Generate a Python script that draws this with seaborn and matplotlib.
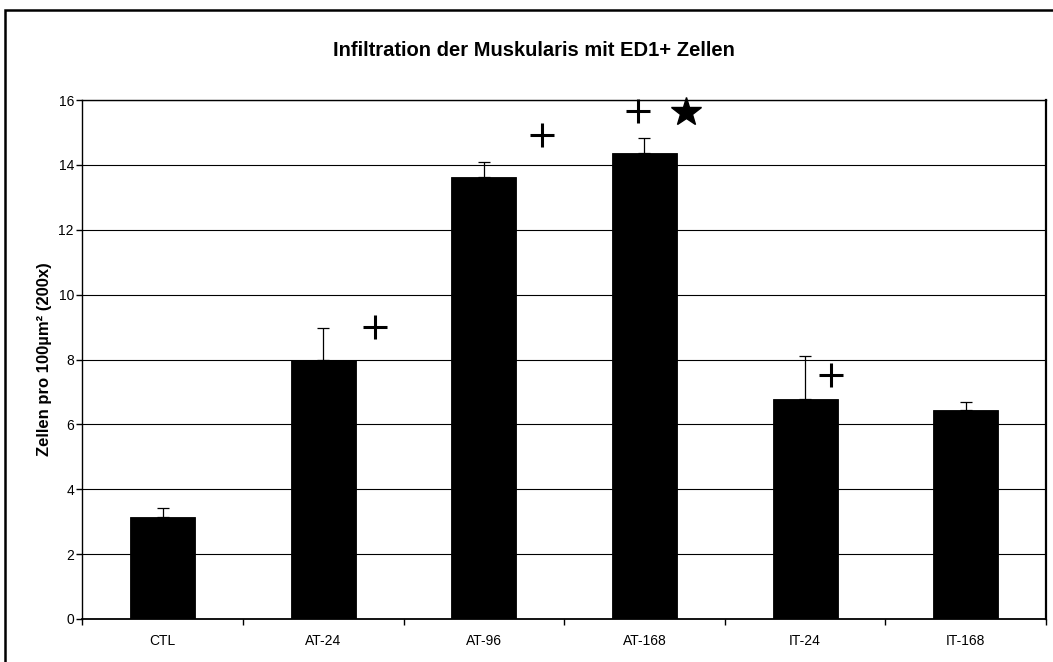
import matplotlib
matplotlib.use("Agg")
import matplotlib.pyplot as plt
import seaborn as sns
import pandas as pd
import numpy as np
from matplotlib.patches import Rectangle
from matplotlib.ticker import FixedLocator

# ---- data ----
categories = ["CTL", "AT-24", "AT-96", "AT-168", "IT-24", "IT-168"]
means = [3.15, 8.00, 13.63, 14.36, 6.77, 6.44]
errors = [0.26, 0.98, 0.45, 0.48, 1.33, 0.26]
plus_values = [np.nan, 8.99, 14.91, 15.65, 7.51, np.nan]
star_values = [np.nan, np.nan, np.nan, 15.64, np.nan, np.nan]
y_ticks = [0, 2, 4, 6, 8, 10, 12, 14, 16]

title = "Infiltration der Muskularis mit ED1+ Zellen"
ylabel = "Zellen pro 100µm² (200x)"

# layout (horizontal offsets of significance marks from category centre)
plus_offsets = [0.0, 0.32, 0.36, -0.04, 0.16, 0.0]
star_offsets = [0.0, 0.0, 0.0, 0.26, 0.0, 0.0]

sns.set_style("white")
plt.rcParams["font.family"] = ["Liberation Sans", "DejaVu Sans"]
plt.rcParams["text.color"] = "black"
plt.rcParams["axes.labelcolor"] = "black"
plt.rcParams["xtick.color"] = "black"
plt.rcParams["ytick.color"] = "black"

fig = plt.figure(figsize=(10.53, 6.62), dpi=100)
W, H = 1053, 662
ax = fig.add_axes([82.3 / W, 1 - 619 / H, (1046 - 82.3) / W, (619 - 100) / H])

df = pd.DataFrame({"Gruppe": categories, "Wert": means})
sns.barplot(data=df, x="Gruppe", y="Wert", color="black", saturation=1,
            width=0.405, errorbar=None, edgecolor="black", linewidth=0.6, ax=ax)

xpos = np.arange(len(categories))
ax.errorbar(xpos, means, yerr=[np.zeros(len(means)), errors], fmt="none",
            ecolor="black", elinewidth=0.9, capsize=4, capthick=0.9, zorder=3)

ax.plot(xpos + np.array(plus_offsets), plus_values, linestyle="none",
        marker="+", markersize=17, markeredgewidth=2.2, color="black",
        clip_on=False, zorder=4)
ax.plot(xpos + np.array(star_offsets), star_values, linestyle="none",
        marker="*", markersize=22, color="black", clip_on=False, zorder=4)

ax.set_xlim(-0.5, len(categories) - 0.5)
ax.set_ylim(0, 16)
ax.set_yticks(y_ticks)
ax.yaxis.grid(True, color="black", linewidth=0.8)
ax.set_axisbelow(True)

ax.set_xlabel("")
ax.set_ylabel(ylabel, fontsize=12, fontweight="bold", labelpad=5, color="black")

ax.xaxis.set_minor_locator(FixedLocator(np.arange(-0.5, len(categories), 1.0)))
ax.tick_params(axis="x", which="major", length=0, pad=11, labelsize=10,
               colors="black")
ax.tick_params(axis="x", which="minor", length=4, width=1, color="black",
               direction="out", bottom=True)
ax.tick_params(axis="y", which="major", length=4, width=1, color="black",
               labelcolor="black", direction="out", left=True, pad=2,
               labelsize=10)

for s in ax.spines.values():
    s.set_visible(True)
    s.set_color("black")
    s.set_linewidth(1.0)
ax.spines["right"].set_linewidth(1.6)
ax.spines["bottom"].set_linewidth(1.3)

fig.text(534 / W, 1 - 50 / H, title, ha="center", va="center",
         fontsize=14.5, fontweight="bold", color="black")

# outer chart frame
fig.add_artist(Rectangle((5 / W, -0.05), 1.2, 1 - 10 / H + 0.05,
                         transform=fig.transFigure, fill=False,
                         edgecolor="black", linewidth=1.8, clip_on=False))

fig.savefig("out.png", dpi=100)
